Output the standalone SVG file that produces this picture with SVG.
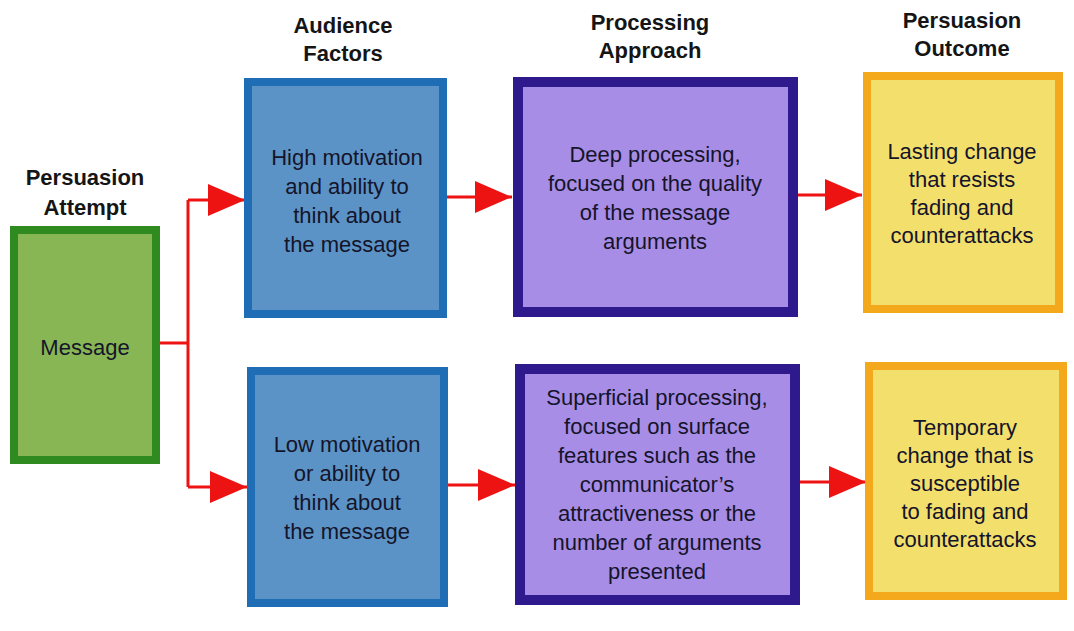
<svg xmlns="http://www.w3.org/2000/svg" width="1074" height="631" viewBox="0 0 1074 631">
  <style>
    .title { font-family: "Liberation Sans", Arial, sans-serif; font-size: 22px; font-weight: bold; fill: #151515; text-anchor: middle; }
    .body { font-family: "Liberation Sans", Arial, sans-serif; font-size: 22px; fill: #14142a; text-anchor: middle; }
    .msg { fill: #89b655; stroke: #2f8a1f; stroke-width: 8; }
    .aud { fill: #5c93c6; stroke: #1f6db4; stroke-width: 8; }
    .proc { fill: #a88de6; stroke: #2e1a8c; stroke-width: 10; }
    .out { fill: #f3df6c; stroke: #f4a91c; stroke-width: 8; }
    .link { fill: none; stroke: #ee1313; stroke-width: 3; }
  </style>
  <defs>
    <marker id="head" markerUnits="userSpaceOnUse" markerWidth="38" markerHeight="32" refX="37" refY="16" orient="auto">
      <path d="M0,0 L37,16 L0,32 Z" fill="#ee1313"/>
    </marker>
  </defs>
  <rect width="1074" height="631" fill="#ffffff"/>

  <!-- column headings -->
  <g id="headings">
    <text class="title" x="85" y="185">Persuasion</text>
    <text class="title" x="85" y="215">Attempt</text>
    <text class="title" x="343" y="33">Audience</text>
    <text class="title" x="343" y="61">Factors</text>
    <text class="title" x="650" y="30">Processing</text>
    <text class="title" x="650" y="58">Approach</text>
    <text class="title" x="962" y="28">Persuasion</text>
    <text class="title" x="962" y="56">Outcome</text>
  </g>

  <!-- connectors -->
  <g id="connectors">
    <path class="link" d="M160 343 H188"/>
    <path class="link" d="M188 200 V487"/>
    <path class="link" d="M188 200 H245" marker-end="url(#head)"/>
    <path class="link" d="M188 487 H247" marker-end="url(#head)"/>
    <path class="link" d="M447 197 H512" marker-end="url(#head)"/>
    <path class="link" d="M448 485 H515" marker-end="url(#head)"/>
    <path class="link" d="M798 195 H862" marker-end="url(#head)"/>
    <path class="link" d="M800 482 H866" marker-end="url(#head)"/>
  </g>

  <g id="message">
    <rect class="msg" x="14" y="230" width="142" height="230"/>
    <text class="body" x="85" y="355">Message</text>
  </g>

  <g id="high-motivation">
    <rect class="aud" x="248" y="82" width="195" height="232"/>
    <text class="body" x="347" y="165">High motivation</text>
    <text class="body" x="347" y="194">and ability to</text>
    <text class="body" x="347" y="223">think about</text>
    <text class="body" x="347" y="252">the message</text>
  </g>

  <g id="low-motivation">
    <rect class="aud" x="251" y="371" width="193" height="232"/>
    <text class="body" x="347" y="452">Low motivation</text>
    <text class="body" x="347" y="481">or ability to</text>
    <text class="body" x="347" y="510">think about</text>
    <text class="body" x="347" y="539">the message</text>
  </g>

  <g id="deep-processing">
    <rect class="proc" x="518" y="82" width="275" height="230"/>
    <text class="body" x="655" y="162">Deep processing,</text>
    <text class="body" x="655" y="191">focused on the quality</text>
    <text class="body" x="655" y="220">of the message</text>
    <text class="body" x="655" y="249">arguments</text>
  </g>

  <g id="superficial-processing">
    <rect class="proc" x="520" y="369" width="275" height="231"/>
    <text class="body" x="657" y="405">Superficial processing,</text>
    <text class="body" x="657" y="434">focused on surface</text>
    <text class="body" x="657" y="463">features such as the</text>
    <text class="body" x="657" y="492">communicator’s</text>
    <text class="body" x="657" y="521">attractiveness or the</text>
    <text class="body" x="657" y="550">number of arguments</text>
    <text class="body" x="657" y="579">presented</text>
  </g>

  <g id="lasting-change">
    <rect class="out" x="867" y="76" width="192" height="233"/>
    <text class="body" x="962" y="159">Lasting change</text>
    <text class="body" x="962" y="187">that resists</text>
    <text class="body" x="962" y="215">fading and</text>
    <text class="body" x="962" y="243">counterattacks</text>
  </g>

  <g id="temporary-change">
    <rect class="out" x="869" y="366" width="194" height="230"/>
    <text class="body" x="965" y="435">Temporary</text>
    <text class="body" x="965" y="463">change that is</text>
    <text class="body" x="965" y="491">susceptible</text>
    <text class="body" x="965" y="519">to fading and</text>
    <text class="body" x="965" y="547">counterattacks</text>
  </g>
</svg>
